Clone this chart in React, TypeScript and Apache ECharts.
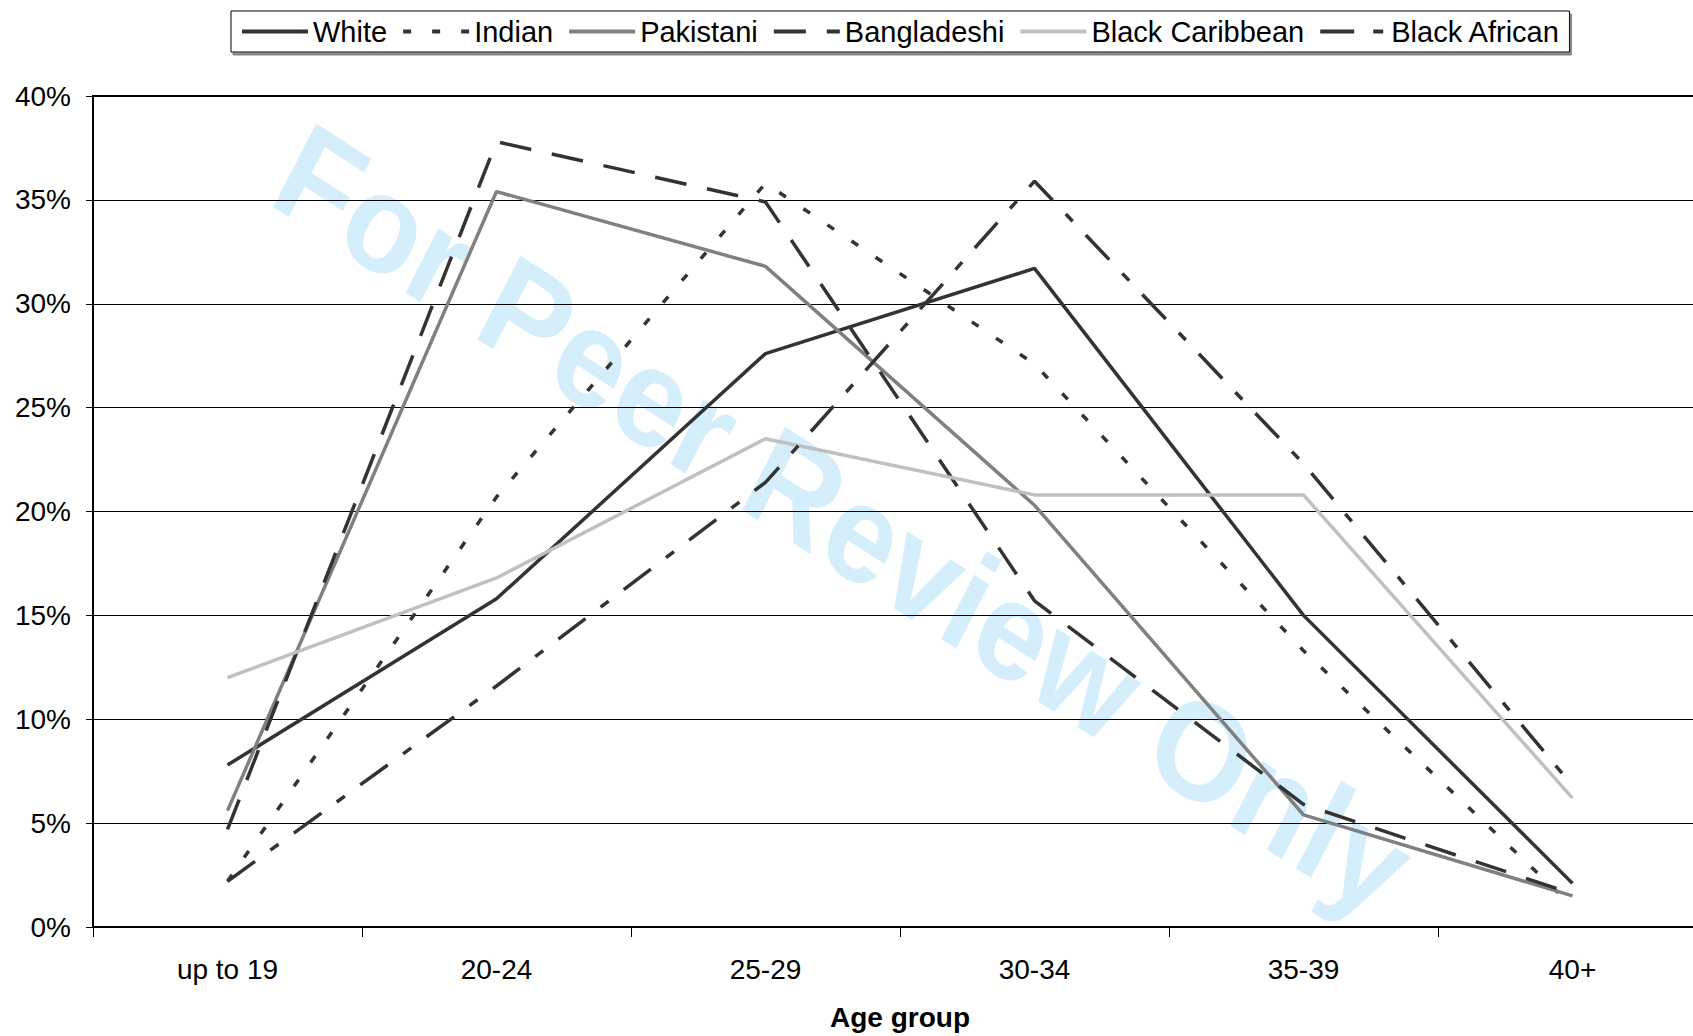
import React, { useEffect, useRef } from "react";
import * as echarts from "echarts";

const categories = ["up to 19", "20-24", "25-29", "30-34", "35-39", "40+"];
const white = [7.8, 15.8, 27.6, 31.7, 15.0, 2.1];
const indian = [2.2, 20.7, 35.8, 27.1, 13.3, 1.0];
const pakistani = [5.6, 35.4, 31.8, 20.3, 5.4, 1.5];
const bangladeshi = [4.7, 37.8, 34.9, 15.7, 5.9, 1.6];
const blackCaribbean = [12.0, 16.8, 23.5, 20.8, 20.8, 6.2];
const blackAfrican = [2.2, 11.6, 21.4, 35.9, 22.3, 6.8];
const seriesNames = ["White", "Indian", "Pakistani", "Bangladeshi", "Black Caribbean", "Black African"];
const yMin = 0;
const yMax = 40;
const yStep = 5;
const xTitle = "Age group";
const watermarkText = "For Peer Review Only";

const FONT = "'Liberation Sans', Arial, Helvetica, sans-serif";
const DARK = "#333333";

export default function App() {
  const ref = useRef<HTMLDivElement>(null);

  useEffect(() => {
    if (!ref.current) return;
    const chart = echarts.init(ref.current, null, { renderer: "svg" });

    const styles: any[] = [
      { color: DARK, type: "solid" },
      { color: DARK, type: [8, 21] },
      { color: "#808080", type: "solid" },
      { color: DARK, type: [32, 21] },
      { color: "#c0c0c0", type: "solid" },
      { color: DARK, type: [34, 19, 10, 19] },
    ];
    const datas = [white, indian, pakistani, bangladeshi, blackCaribbean, blackAfrican];

    const series = seriesNames.map((name, i) => ({
      name,
      type: "line",
      data: datas[i],
      symbol: "none",
      color: styles[i].color,
      itemStyle: { color: styles[i].color },
      lineStyle: { color: styles[i].color, width: 3.5, type: styles[i].type },
      z: 3,
    }));

    const option: any = {
      animation: false,
      backgroundColor: "#ffffff",
      textStyle: { fontFamily: FONT },
      legend: {
        data: seriesNames,
        left: 231,
        top: 11,
        padding: [6, 9, 6, 9],
        itemWidth: 66,
        itemHeight: 14,
        itemGap: 14,
        borderColor: "#000",
        borderWidth: 1,
        backgroundColor: "#fff",
        shadowColor: "#888",
        shadowOffsetX: 2,
        shadowOffsetY: 3,
        shadowBlur: 0,
        itemStyle: { color: "rgba(0,0,0,0)", borderWidth: 0, opacity: 0 },
        lineStyle: { width: 4 },
        textStyle: { fontSize: 29, color: "#000", fontFamily: FONT, lineHeight: 29 },
      },
      grid: {
        left: 93,
        top: 96,
        right: 0,
        height: 832,
        show: true,
        borderColor: "#000",
        borderWidth: 2,
        backgroundColor: "transparent",
      },
      xAxis: {
        type: "category",
        data: categories,
        boundaryGap: true,
        axisLine: { lineStyle: { color: "#000", width: 2 } },
        axisTick: { show: true, length: 10, lineStyle: { color: "#000", width: 1 } },
        axisLabel: { fontSize: 28, color: "#000", margin: 28, fontFamily: FONT },
        name: xTitle,
        nameLocation: "middle",
        nameGap: 76,
        nameTextStyle: { fontSize: 28, fontWeight: "bold", color: "#000", fontFamily: FONT },
      },
      yAxis: {
        type: "value",
        min: yMin,
        max: yMax,
        interval: yStep,
        axisLine: { show: true, lineStyle: { color: "#000", width: 2 } },
        axisTick: { show: true, length: 7, lineStyle: { color: "#000", width: 1 } },
        axisLabel: { formatter: "{value}%", fontSize: 28, color: "#000", margin: 22, fontFamily: FONT },
        splitLine: { show: true, lineStyle: { color: "#000", width: 1 } },
      },
      graphic: [
        {
          type: "group",
          x: 844,
          y: 520,
          scaleY: 1.12,
          z: -10,
          silent: true,
          children: [
            {
              type: "text",
              rotation: (-30 * Math.PI) / 180,
              z: -10,
              style: {
                text: watermarkText,
                fontSize: 125,
                fontWeight: "bold",
                fontFamily: FONT,
                fill: "#d4effb",
                align: "center",
                verticalAlign: "middle",
              },
            },
          ],
        },
      ],
      series,
    };

    chart.setOption(option);
    return () => chart.dispose();
  }, []);

  return (
    <div style={{ position: "fixed", left: 0, top: 0, width: 1693, height: 1036, overflow: "hidden", background: "#fff" }}>
      <div ref={ref} style={{ position: "absolute", left: 0, top: 0, width: 1707, height: 1036 }} />
    </div>
  );
}
